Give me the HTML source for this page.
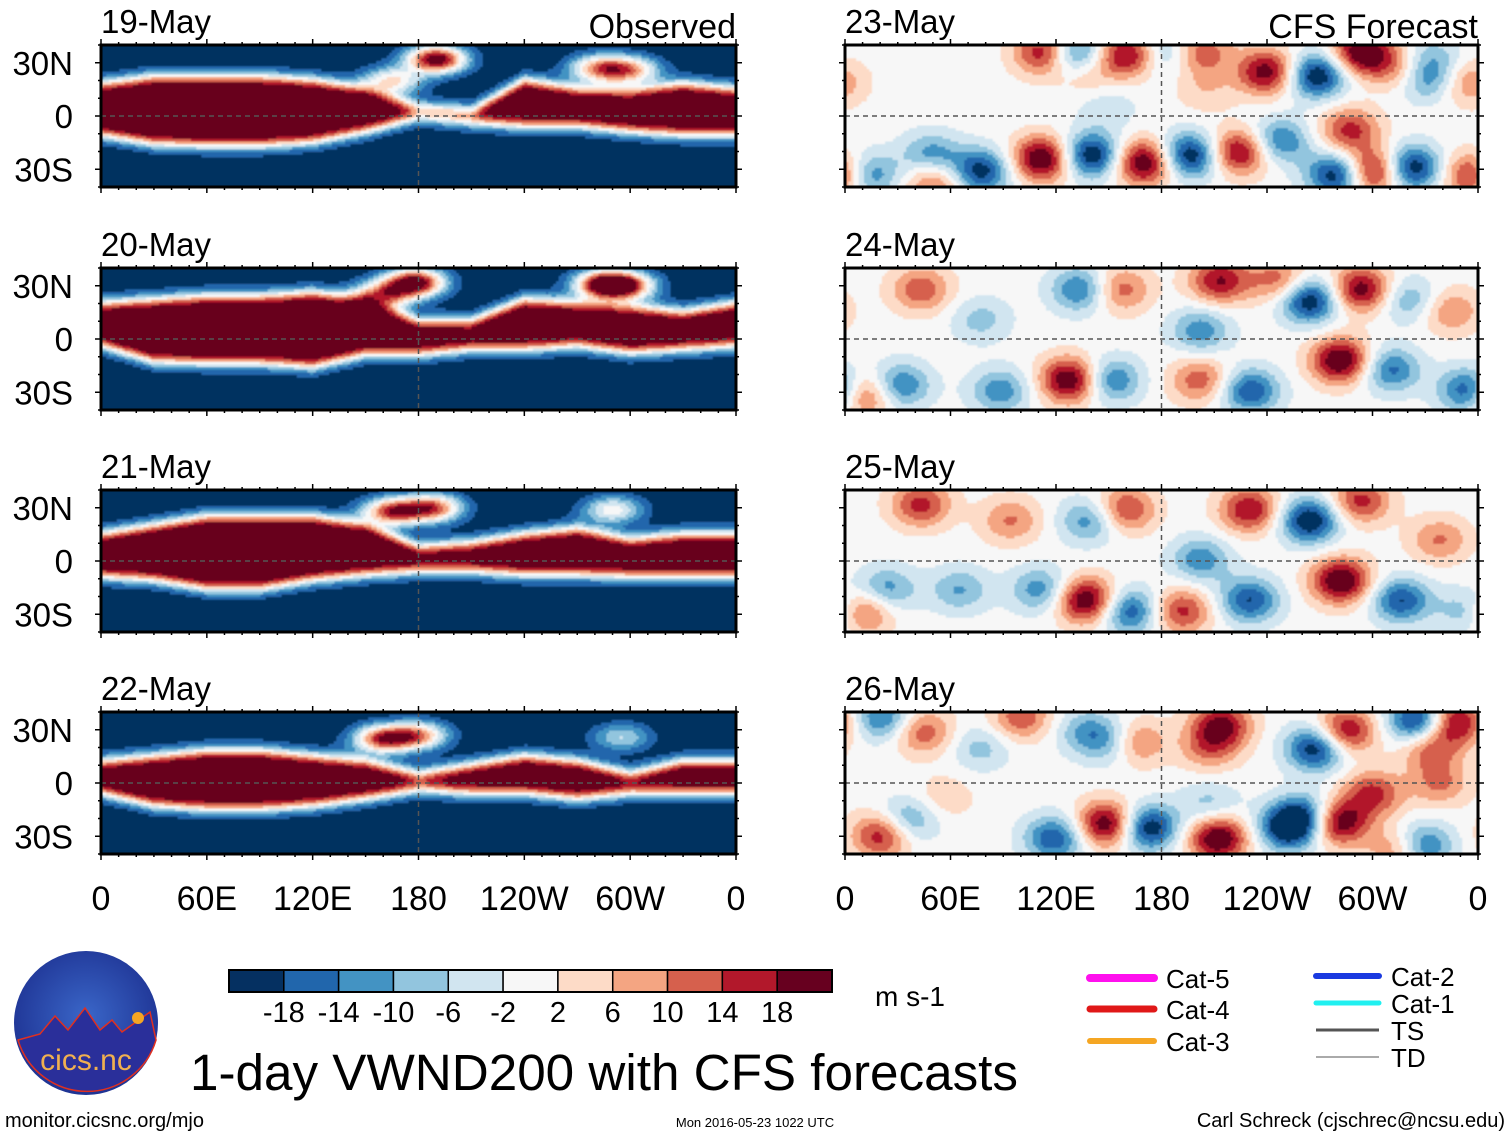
<!DOCTYPE html>
<html><head><meta charset="utf-8"><style>
html,body{margin:0;padding:0;background:#fff;}
svg{display:block;font-family:"Liberation Sans",Arial,sans-serif;}
</style></head><body>
<svg id="fig" width="1510" height="1137" viewBox="0 0 1510 1137" xmlns="http://www.w3.org/2000/svg">
<defs>
<filter id="soft" x="-2%" y="-5%" width="104%" height="110%"><feGaussianBlur stdDeviation="0.9"/></filter>
<radialGradient id="logoG" cx="50%" cy="45%" r="60%"><stop offset="0" stop-color="#3a66c8"/><stop offset="1" stop-color="#1c2f8f"/></radialGradient>
</defs>
<g id="panels"></g>
<g id="colorbar"></g>
<text x="875" y="1006" font-size="28">m s-1</text>

<g>
<circle cx="86" cy="1023" r="72" fill="url(#logoG)"/>
<path d="M18 1040 L40 1034 L55 1016 L68 1030 L85 1008 L100 1030 L112 1020 L122 1032 L150 1012 L156 1040 A72 72 0 0 1 18 1040 Z" fill="#2a2f9a" stroke="#e03020" stroke-width="1.5"/>
<circle cx="138" cy="1018" r="6" fill="#f5a623"/>
<text x="86" y="1070" font-size="30" fill="#f0b050" text-anchor="middle">cics.nc</text>
</g>

<text x="190" y="1090" font-size="51" textLength="828" lengthAdjust="spacingAndGlyphs">1-day VWND200 with CFS forecasts</text>

<g>
<line x1="1090" y1="978" x2="1154" y2="978" stroke="#ff10ee" stroke-width="8" stroke-linecap="round"/>
<line x1="1090" y1="1009" x2="1154" y2="1009" stroke="#e01818" stroke-width="7" stroke-linecap="round"/>
<line x1="1090" y1="1041" x2="1154" y2="1041" stroke="#f5a623" stroke-width="6" stroke-linecap="round"/>
<text x="1166" y="988" font-size="26">Cat-5</text>
<text x="1166" y="1019" font-size="26">Cat-4</text>
<text x="1166" y="1051" font-size="26">Cat-3</text>
<line x1="1316" y1="976" x2="1379" y2="976" stroke="#1a3ae0" stroke-width="6" stroke-linecap="round"/>
<line x1="1316" y1="1003" x2="1379" y2="1003" stroke="#20f0f0" stroke-width="5" stroke-linecap="round"/>
<line x1="1316" y1="1030" x2="1379" y2="1030" stroke="#555" stroke-width="3"/>
<line x1="1316" y1="1057" x2="1379" y2="1057" stroke="#aaa" stroke-width="2"/>
<text x="1391" y="986" font-size="26">Cat-2</text>
<text x="1391" y="1013" font-size="26">Cat-1</text>
<text x="1391" y="1040" font-size="26">TS</text>
<text x="1391" y="1067" font-size="26">TD</text>
</g>

<text x="5" y="1127" font-size="20">monitor.cicsnc.org/mjo</text>
<text x="755" y="1127" font-size="13" text-anchor="middle">Mon 2016-05-23 1022 UTC</text>
<text x="1505" y="1127" font-size="20" text-anchor="end">Carl Schreck (cjschrec@ncsu.edu)</text>
</svg>
<script>
// ---- data ----
const levels = [-18,-14,-10,-6,-2,2,6,10,14,18];
const levelColors = ["#053061","#2166ac","#4393c3","#92c5de","#d1e5f0","#f7f7f7","#fddbc7","#f4a582","#d6604d","#b2182b","#67001f"];
const obsDates = ["19-May","20-May","21-May","22-May"];
const fcstDates = ["23-May","24-May","25-May","26-May"];
const bandLons = [0,30,60,90,120,150,180,210,240,270,300,330,360];
const bandNorth = [
 [18,22,22,22,20,15,5,3,20,15,14,18,15],
 [20,22,24,24,26,22,10,10,22,20,18,15,20],
 [15,20,25,25,25,20,8,10,15,18,12,15,15],
 [12,15,18,18,15,12,5,10,15,12,5,12,12]];
const bandSouth = [
 [-10,-15,-16,-16,-14,-8,0,-3,-5,-5,-8,-10,-10],
 [-3,-12,-13,-13,-15,-8,-8,-5,-5,-3,-7,-5,-3],
 [-8,-10,-15,-15,-10,-7,-5,-5,-7,-7,-8,-8,-8],
 [-5,-12,-14,-14,-12,-8,-3,-5,-5,-8,-5,-5,-5]];
// additional observed anomalies [lon, lat, value]
const obsBlobs = [
 [[190,32,44],[165,20,24],[282,27,28],[300,26,26]],
 [[178,32,44],[160,25,30],[285,31,40],[298,30,30]],
 [[165,28,36],[188,30,34],[290,29,22]],
 [[160,25,36],[180,27,28],[295,26,16]]];
const fcstBlobs = [
 [[114,36,16],[130,35,-16],[161,35,16],[180,36,-8],[203,36,10],[240,25,16],[268,23,-18],[294,36,18],[315,27,8],[331,21,-10],[354,19,8],[112,-24,18],[140,-22,-18],[170,-26,18],[196,-22,-18],[224,-20,16],[247,-14,-12],[287,-8,12],[280,-33,-18],[300,-31,18],[322,-29,-18],[358,-33,16],[77,-31,-16],[49,-22,-10],[12,-33,-14],[51,-37,10],[137,25,6],[333,33,-6],[205,15,4],[149,5,-4]],
 [[128,-23,18],[151,-23,-12],[282,-12,18],[264,22,-18],[293,28,16],[213,33,14],[310,-17,-12],[356,-29,-18],[9,-31,16],[31,-26,-12],[43,28,10],[134,28,-12],[156,28,10],[247,33,10],[202,5,-10],[88,-29,-10],[202,-23,10],[230,-29,-14],[321,22,-8],[344,16,8],[77,11,-6]],
 [[137,-22,18],[162,-28,-14],[111,-16,-10],[282,-11,18],[264,23,-18],[230,29,14],[293,34,12],[202,1,-10],[191,-28,12],[230,-22,-14],[316,-22,-14],[9,-28,14],[23,-16,-10],[43,32,12],[94,23,8],[139,23,-10],[159,29,12],[65,-16,-8],[338,12,8],[356,-28,-10]],
 [[21,37,-12],[44,29,10],[100,37,10],[77,20,-6],[137,29,-8],[154,23,-12],[163,23,14],[214,33,14],[207,20,8],[268,20,-18],[284,29,16],[347,35,16],[326,35,-18],[333,20,10],[338,0,8],[300,-6,12],[280,-22,18],[252,-25,-18],[262,-18,-12],[212,-31,18],[172,-25,-18],[149,-23,18],[119,-31,-14],[21,-29,14],[35,-21,-10],[328,-35,-14],[315,-37,10],[56,-8,4],[207,-12,-6]]];
const lonTicks = [0,60,120,180,240,300,360];
const lonLabels = ["0","60E","120E","180","120W","60W","0"];
const latTicks = [30,0,-30];
const latLabels = ["30N","0","30S"];

// ---- drawing ----
const NS="http://www.w3.org/2000/svg";
function mk(tag,attrs,parent){const e=document.createElementNS(NS,tag);for(const k in attrs)e.setAttribute(k,attrs[k]);if(parent)parent.appendChild(e);return e;}
const rowTops=[45,268,490,712], PH=142;
const cols=[{x0:101,x1:736},{x0:845,x1:1478}];
function xScale(c,lon){return c.x0+(lon/360)*(c.x1-c.x0);}
function yScale(top,lat){return top+(40-lat)/80*PH;}
function binIndex(v){let i=0;while(i<levels.length&&v>levels[i])i++;return i;}
function sig(x){return 1/(1+Math.exp(-x));}
function interp(arr,lon){const i=Math.min(Math.floor(lon/30),arr.length-2);const t=(lon-bandLons[i])/30;return arr[i]*(1-t)+arr[i+1]*t;}
function gauss(blobs,lon,lat,sx,sy){let s=0;for(const [bl,bt,v] of blobs){let dl=lon-bl;if(dl>180)dl-=360;if(dl<-180)dl+=360;const dt=lat-bt;s+=v*Math.exp(-(dl*dl)/(2*sx*sx)-(dt*dt)/(2*sy*sy));}return s;}
const panels=document.getElementById('panels');
const DLON=1.5, DLAT=1.5;

function drawField(g,c,top,fn){
  const paths=levelColors.map(()=>'');
  const cw=DLON/360*(c.x1-c.x0), chh=DLAT/80*PH;
  for(let lon=0;lon<360;lon+=DLON){
    for(let lat=40;lat>-40;lat-=DLAT){
      const v=fn(lon+DLON/2,lat-DLAT/2);
      const i=binIndex(v);
      const x=xScale(c,lon), y=yScale(top,lat);
      paths[i]+='M'+x.toFixed(1)+' '+y.toFixed(1)+'h'+(cw+0.6).toFixed(2)+'v'+(chh+0.6).toFixed(2)+'h'+(-(cw+0.6)).toFixed(2)+'z';
    }
  }
  paths.forEach((d,i)=>{if(!d)return;const p=mk('path',{d:d,fill:levelColors[i]},g);
    
    });
}

for(let r=0;r<4;r++){
  for(let ci=0;ci<2;ci++){
    const c=cols[ci], top=rowTops[r];
    const g=mk('g',{},panels);
    
    
    const cid='clip'+r+ci;
    const cp=mk('clipPath',{id:cid},g); mk('rect',{x:c.x0,y:top,width:c.x1-c.x0,height:PH},cp);
    const inner=mk('g',{'clip-path':'url(#'+cid+')'},g);
    const fg=mk('g',{filter:'url(#soft)'},inner);
    if(ci==0){
      drawField(fg,c,top,(lon,lat)=>{
        const N=interp(bandNorth[r],lon), S=interp(bandSouth[r],lon);
        return -22+50*sig((lat-S)/2.6)*sig((N-lat)/2.6)+gauss(obsBlobs[r],lon,lat,12,5.5);
      });
    } else {
      drawField(fg,c,top,(lon,lat)=>gauss(fcstBlobs[r],lon,lat,12,9)*1.3);
    }
    const eq=mk('line',{x1:c.x0,x2:c.x1,y1:yScale(top,0),y2:yScale(top,0),stroke:'#555','stroke-width':1.5,'stroke-dasharray':'5,4'},inner);
    
    
    mk('line',{x1:xScale(c,180),x2:xScale(c,180),y1:top,y2:top+PH,stroke:'#555','stroke-width':1.5,'stroke-dasharray':'5,4'},inner);
    const fr=mk('rect',{x:c.x0,y:top,width:c.x1-c.x0,height:PH,fill:'none',stroke:'#000','stroke-width':3},g);
    
    
    for(let lon=0;lon<=360;lon+=10){
      const x=xScale(c,lon), L=(lon%60==0)?6:3;
      mk('line',{x1:x,x2:x,y1:top+PH,y2:top+PH+L,stroke:'#000','stroke-width':1.5},g);
      mk('line',{x1:x,x2:x,y1:top,y2:top-L,stroke:'#000','stroke-width':1.5},g);
    }
    for(let lat=-40;lat<=40;lat+=10){
      const y=yScale(top,lat), L=(lat%30==0)?6:3;
      mk('line',{x1:c.x0,x2:c.x0-L,y1:y,y2:y,stroke:'#000','stroke-width':1.5},g);
      mk('line',{x1:c.x1,x2:c.x1+L,y1:y,y2:y,stroke:'#000','stroke-width':1.5},g);
    }
    const t=mk('text',{x:c.x0,y:top-12,'font-size':33},g);
    t.textContent=ci==0?obsDates[r]:fcstDates[r];
    
    
    if(ci==0){
      latTicks.forEach((lat,i)=>{const l=mk('text',{x:73,y:yScale(top,lat)+12,'font-size':33,'text-anchor':'end'},g);l.textContent=latLabels[i];
        
        });
    }
    if(r==0){
      const h=mk('text',{x:c.x1,y:38,'font-size':34,'text-anchor':'end'},g);
      h.textContent=ci==0?'Observed':'CFS Forecast';
      
      
    }
    if(r==3){
      lonTicks.forEach((lon,i)=>{const l=mk('text',{x:xScale(c,lon),y:910,'font-size':34,'text-anchor':'middle'},g);l.textContent=lonLabels[i];
        
        });
    }
  }
}
const cb=document.getElementById('colorbar');
const cbX0=229,cbX1=832,cbY=970,cbH=22,bw=(cbX1-cbX0)/levelColors.length;
levelColors.forEach((col,i)=>{const rr=mk('rect',{x:cbX0+i*bw,y:cbY,width:bw,height:cbH,fill:col,stroke:'#000','stroke-width':1.5},cb);
  
  });
mk('rect',{x:cbX0,y:cbY,width:cbX1-cbX0,height:cbH,fill:'none',stroke:'#000','stroke-width':2},cb);
levels.forEach((lv,i)=>{const l=mk('text',{x:cbX0+(i+1)*bw,y:1022,'font-size':29,'text-anchor':'middle'},cb);l.textContent=String(lv);
  
  });
</script>
</body></html>
